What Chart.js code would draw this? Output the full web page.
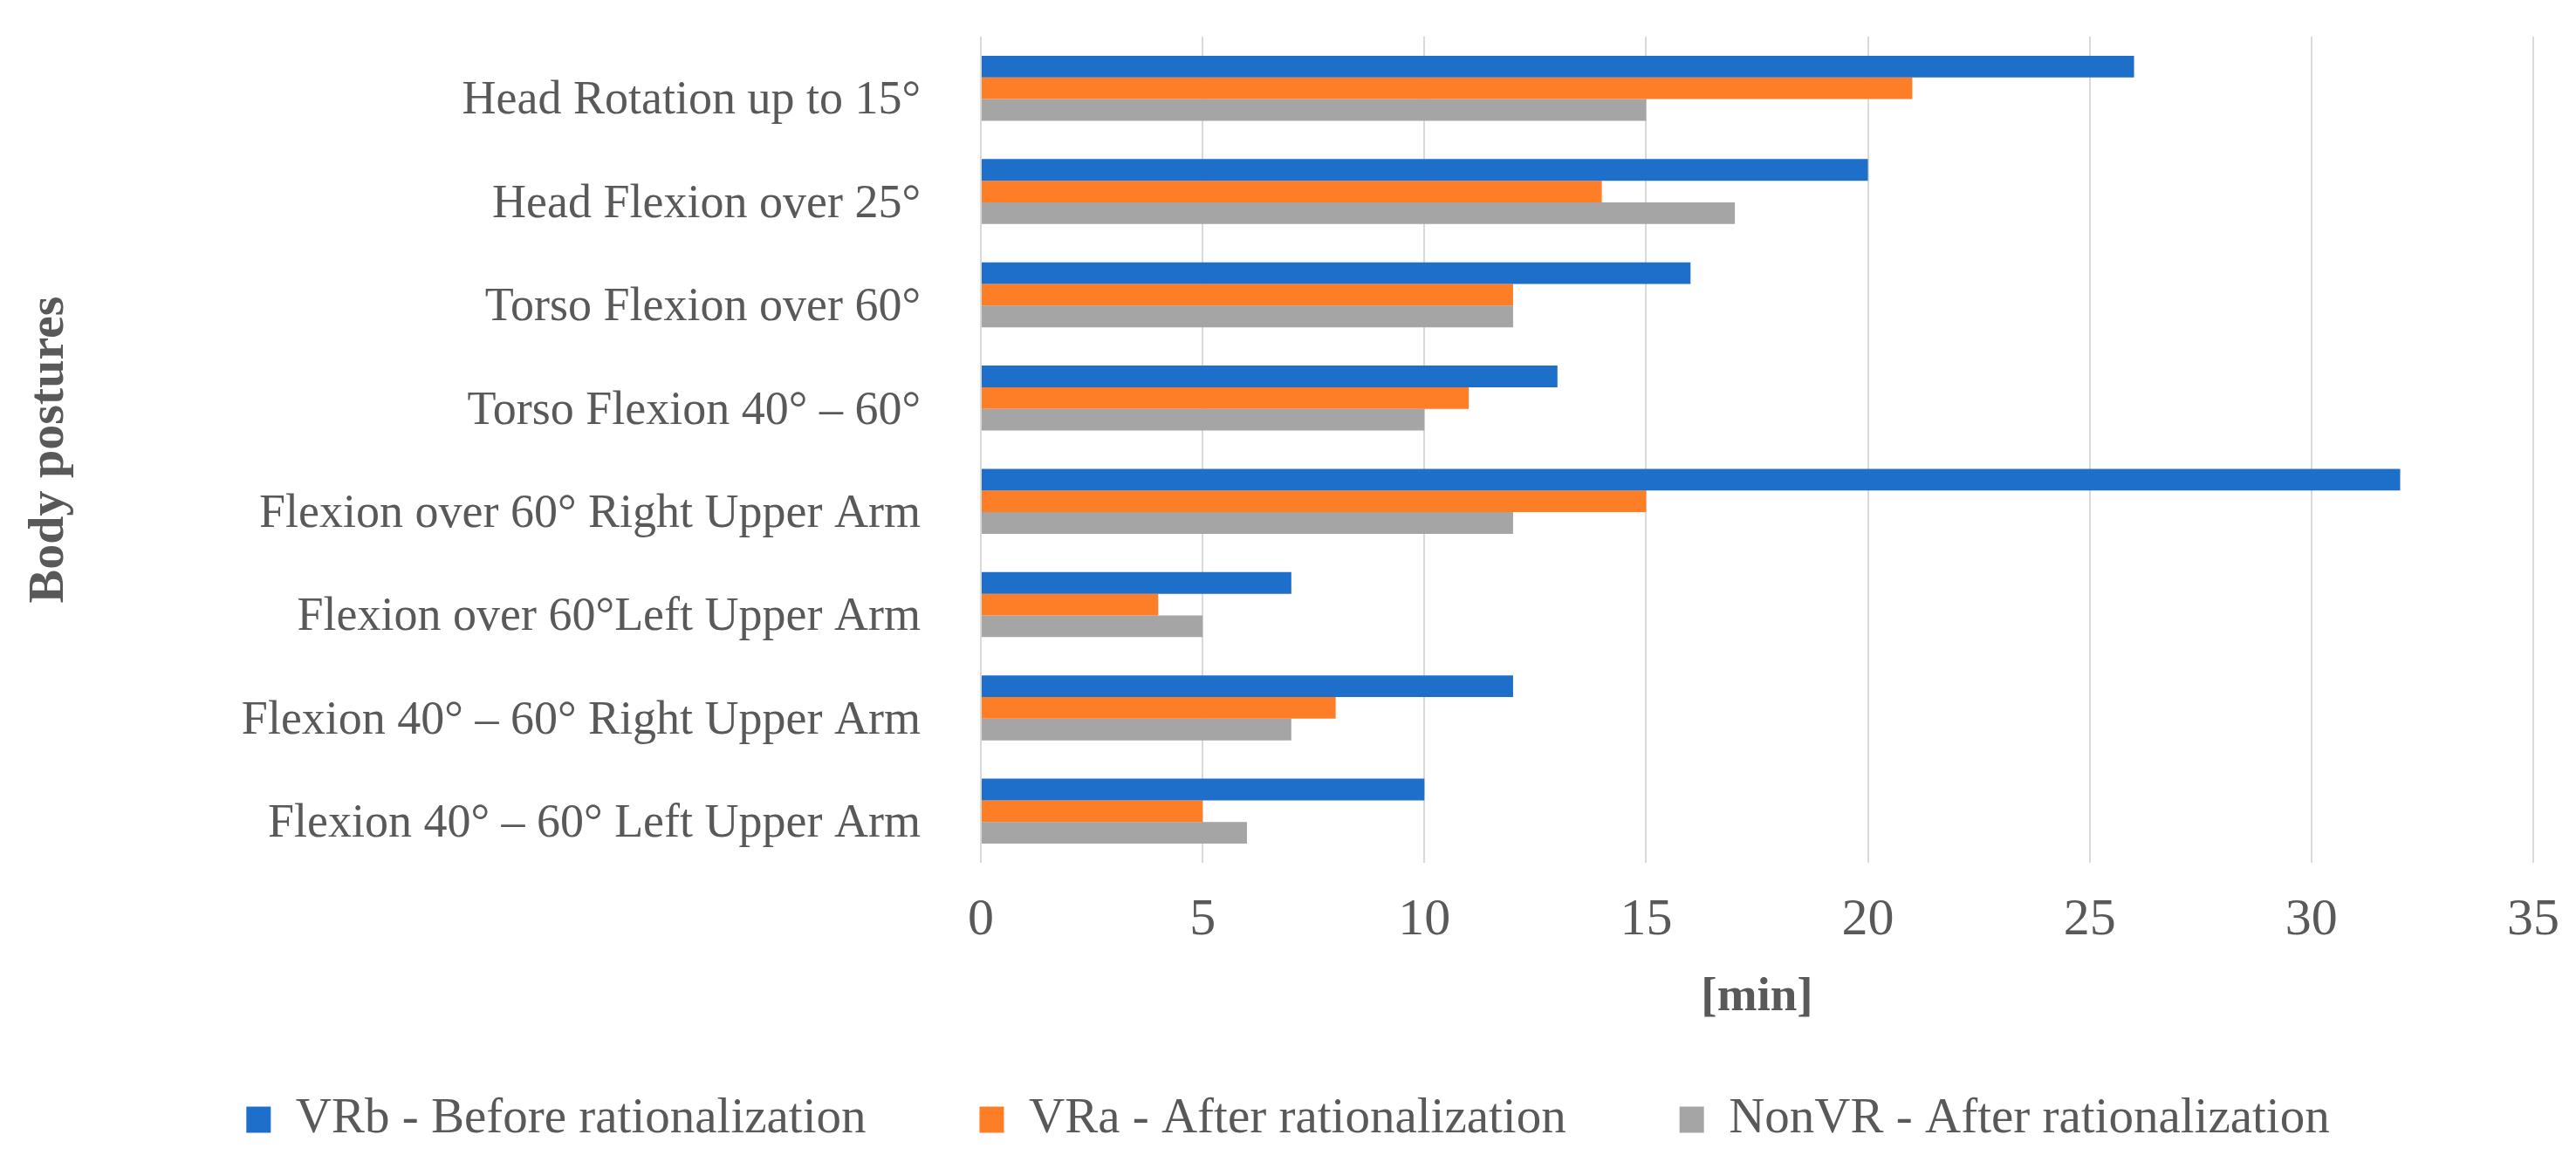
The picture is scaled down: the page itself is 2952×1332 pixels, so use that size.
<!DOCTYPE html>
<html>
<head>
<meta charset="utf-8">
<script src="https://cdn.jsdelivr.net/npm/chart.js@4/dist/chart.umd.min.js"></script>
<style>
  html, body { margin: 0; padding: 0; background: #fff; }
  #wrap { width: 2952px; height: 1332px; }
</style>
</head>
<body>
<div id="wrap"><canvas id="postures"></canvas></div>
<script>
const postures = [
  'Head Rotation up to 15°',
  'Head Flexion over 25°',
  'Torso Flexion over 60°',
  'Torso Flexion 40° – 60°',
  'Flexion over 60° Right Upper Arm',
  'Flexion over 60°Left Upper Arm',
  'Flexion 40° – 60° Right Upper Arm',
  'Flexion 40° – 60° Left Upper Arm'
]
const vrBefore = [26, 20, 16, 13, 32, 7, 12, 10]
const vrAfter = [21, 14, 12, 11, 15, 4, 8, 5]
const nonVrAfter = [15, 17, 12, 10, 12, 5, 7, 6]
const minuteTicks = [0, 5, 10, 15, 20, 25, 30, 35]

const textGrey = '#595959'
const serif = "'Liberation Serif', 'Times New Roman', serif"

const ctx = document.getElementById('postures').getContext('2d')

const chart = new Chart(ctx, {
  type: 'bar',
  data: {
    labels: postures,
    datasets: [
      { label: 'VRb - Before rationalization', data: vrBefore, backgroundColor: '#1E6FCA' },
      { label: 'VRa - After rationalization', data: vrAfter, backgroundColor: '#FD7E27' },
      { label: 'NonVR - After rationalization', data: nonVrAfter, backgroundColor: '#A5A5A5' }
    ]
  },
  options: {
    indexAxis: 'y',
    responsive: true,
    maintainAspectRatio: false,
    devicePixelRatio: 1,
    animation: false,
    categoryPercentage: 0.63,
    barPercentage: 1,
    layout: {
      padding: { top: 42, right: 49, bottom: 10, left: 49 }
    },
    scales: {
      x: {
        min: 0,
        max: 35,
        afterBuildTicks: (scale) => {
          scale.ticks = minuteTicks.map((v) => ({ value: v }))
        },
        afterFit: (scale) => {
          scale.height = 136
          scale.paddingLeft = 0
          scale.paddingRight = 0
        },
        grid: { color: '#D9D9D9', lineWidth: 2, drawTicks: false },
        border: { display: false },
        ticks: {
          padding: 30,
          color: textGrey,
          font: { family: serif, size: 60 }
        },
        title: {
          display: true,
          text: '[min]',
          color: textGrey,
          padding: { top: 0, bottom: -52 },
          font: { family: serif, size: 55, weight: 'bold' }
        }
      },
      y: {
        afterFit: (scale) => {
          scale.width = 1075
          scale.paddingTop = 0
          scale.paddingBottom = 0
        },
        grid: { display: false },
        border: { display: false },
        ticks: {
          padding: 61,
          labelOffset: 15,
          color: textGrey,
          font: { family: serif, size: 54 }
        },
        title: {
          display: true,
          text: 'Body postures',
          color: textGrey,
          padding: { top: -27, bottom: 0 },
          font: { family: serif, size: 58, weight: 'bold' }
        }
      }
    },
    plugins: {
      legend: {
        position: 'bottom',
        labels: {
          boxWidth: 28,
          boxHeight: 30,
          padding: 130,
          color: textGrey,
          font: { family: serif, size: 57 }
        }
      },
      tooltip: { enabled: false }
    }
  }
})
</script>
</body>
</html>
